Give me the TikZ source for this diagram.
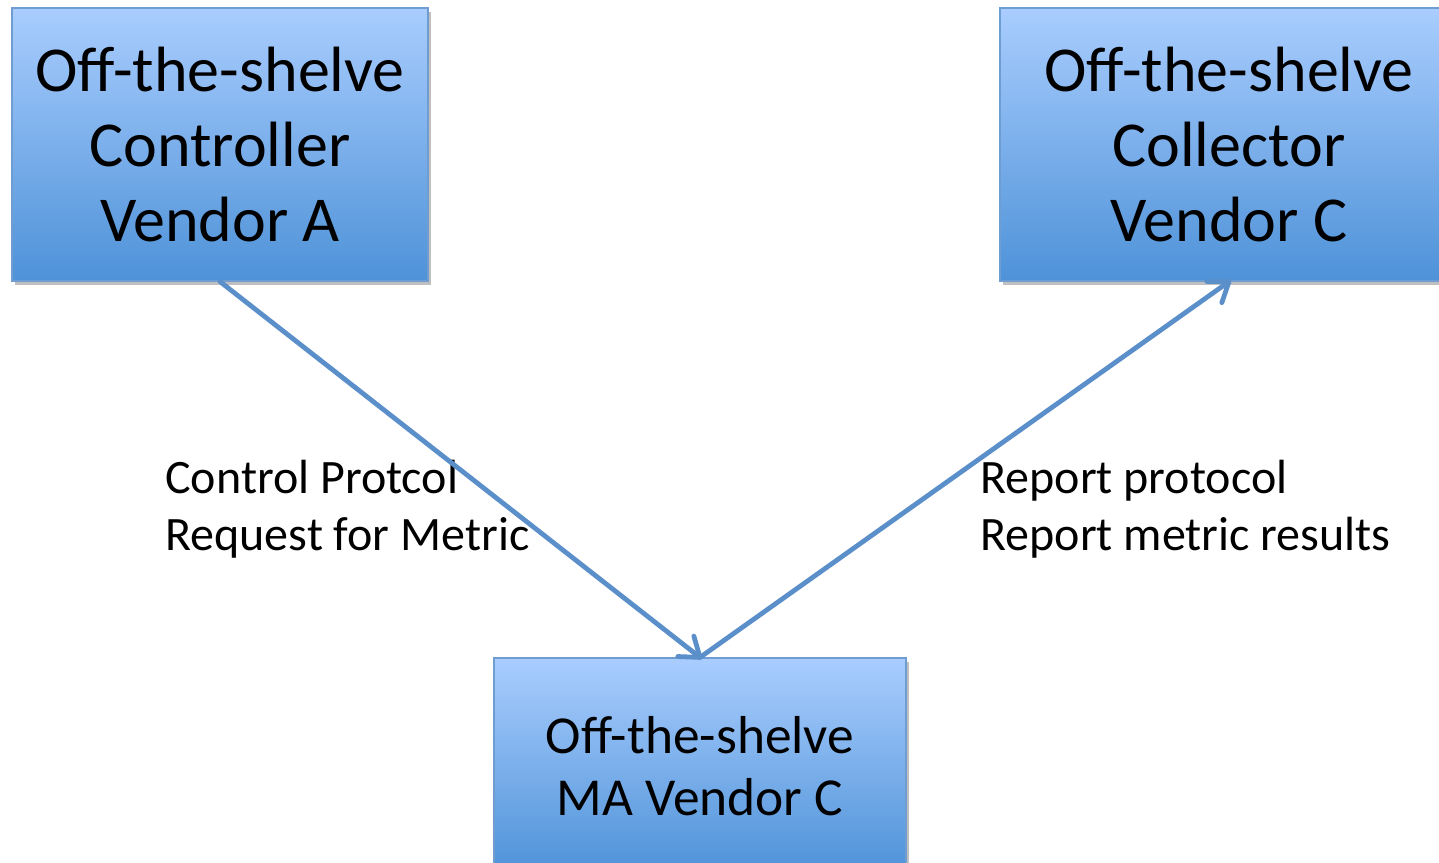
\documentclass[tikz,border=0pt]{standalone}
\usepackage{fontspec}
\setmainfont{Carlito}
\usetikzlibrary{arrows.meta,shadows}
\definecolor{boxtop}{HTML}{A9CDFE}
\definecolor{boxbottom}{HTML}{4E92D8}
\definecolor{boxline}{HTML}{6F9DD2}
\definecolor{flow}{HTML}{5B8FCA}
\pgfdeclarearrow{
  name = OpenBarb,
  parameters = {\the\pgfarrowlength,\the\pgfarrowwidth},
  setup code = {
    \pgfarrowssettipend{0pt}
    \pgfarrowssetlineend{-0.5\pgflinewidth}
    \pgfarrowssetbackend{-\pgfarrowlength}
    \pgfarrowssavethe\pgfarrowlength
    \pgfarrowssavethe\pgfarrowwidth
  },
  drawing code = {
    \pgfsetdash{}{0pt}
    \pgfsetroundcap
    \pgfsetroundjoin
    \pgfpathmoveto{\pgfqpoint{-\pgfarrowlength}{0.5\pgfarrowwidth}}
    \pgfpathlineto{\pgfpointorigin}
    \pgfpathlineto{\pgfqpoint{-\pgfarrowlength}{-0.5\pgfarrowwidth}}
    \pgfusepathqstroke
  },
  defaults = {length=9pt, width=14pt}
}
\begin{document}
\begin{tikzpicture}[x=0.5pt, y=-0.5pt,
  vendorbox/.style={draw=boxline, line width=0.6pt, top color=boxtop, bottom color=boxbottom,
                    inner sep=0pt, align=center, text=black,
                    drop shadow={shadow xshift=1.5pt, shadow yshift=-2pt, opacity=0.25, fill=black}},
  flowarrow/.style={draw=flow, line width=2.4pt, line cap=round,
                    -{OpenBarb[length=9pt, width=13pt]}},
  flowlabel/.style={anchor=west, align=left, inner sep=0pt, font=\fontsize{24}{28.5}\selectfont}]

\useasboundingbox (0,0) rectangle (1439,862);

\node (ctrl) at (220,144.5) [vendorbox, minimum width=208pt, minimum height=136.5pt,
  font=\fontsize{32}{37.5}\selectfont] {Off-the-shelve\\Controller\\Vendor A};

\node (coll) at (1229,144.5) [vendorbox, minimum width=229pt, minimum height=136.5pt,
  font=\fontsize{32}{37.5}\selectfont] {Off-the-shelve\\Collector\\Vendor C};

\node (ma) at (700,766) [vendorbox, minimum width=206pt, minimum height=108pt,
  font=\fontsize{26.7}{31}\selectfont] {Off-the-shelve\\MA Vendor C};

\node (ctrllabel) at (165,509) [flowlabel] {Control Protcol\\Request for Metric};

\node (colllabel) at (980,509) [flowlabel] {Report protocol\\Report metric results};

\draw [flowarrow] (ctrl.south) -- (ma.north);
\draw [flowarrow] (ma.north) -- (coll.south);

\end{tikzpicture}
\end{document}
